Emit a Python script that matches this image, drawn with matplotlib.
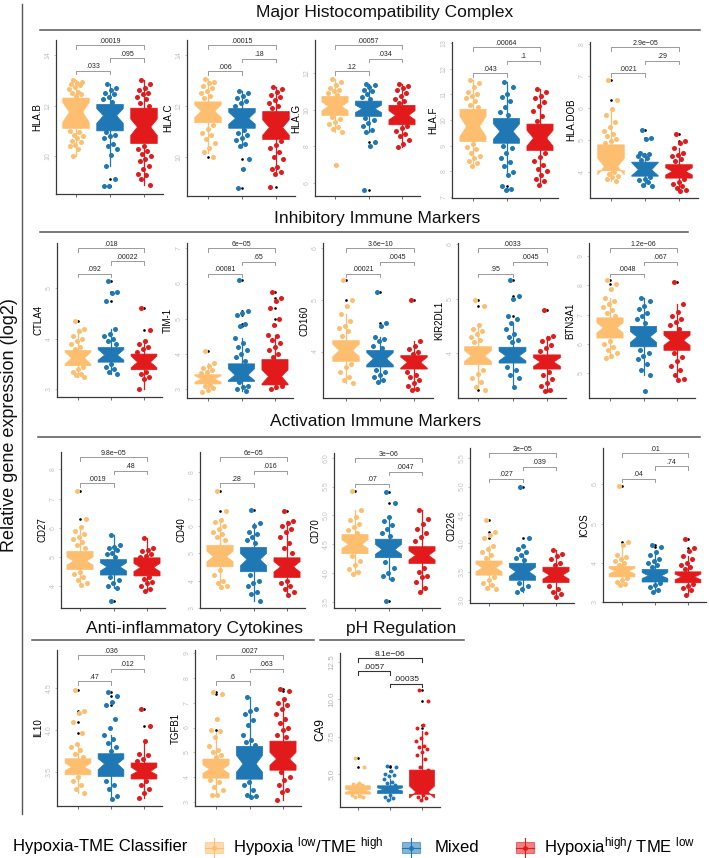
import matplotlib
matplotlib.use('Agg')
import matplotlib.pyplot as plt
from matplotlib.patches import Rectangle
from matplotlib.lines import Line2D

plt.rcParams['font.family'] = ['Liberation Sans', 'DejaVu Sans']
plt.rcParams['mathtext.default'] = 'regular'

W, H = 709, 858
fig = plt.figure(figsize=(W / 100, H / 100), dpi=100)

group_names = ['Hypoxia low/TME high', 'Mixed', 'Hypoxia high/TME low']
colors = ['#FDBF6F', '#1F78B4', '#E31A1C']

# ---------------- data (box stats: whislo, q1, med, q3, whishi) ----------------
HLAB_box = [[10.0, 11.1, 11.74, 12.3, 13.0], [9.6, 11.0, 11.6, 12.05, 12.85], [8.85, 10.5, 11.15, 11.9, 13.0]]
HLAB_notch = [[11.34, 12.13], [11.3, 11.88], [10.82, 11.47]]
HLAB_low = [13.0, 12.95, 12.9, 12.85, 12.8, 12.75, 12.65, 12.55, 12.5, 12.45, 12.4, 11.0, 10.95, 10.85, 10.8, 10.7, 10.6, 10.55, 10.45, 10.4, 10.3, 10.0]
HLAB_mix = [12.85, 12.7, 12.6, 12.5, 12.45, 12.35, 12.25, 12.15, 10.95, 10.85, 10.8, 10.7, 10.5, 10.4, 10.3, 10.05, 9.6, 9.1, 8.8, 8.8]
HLAB_high = [13.0, 12.85, 12.7, 12.6, 12.5, 12.45, 12.35, 12.25, 12.1, 12.0, 10.4, 10.3, 10.2, 10.1, 10.0, 9.9, 9.8, 9.6, 9.5, 9.3, 9.25, 9.1, 8.85]
HLAB_out = [[], [9.1, 8.8, 8.8], []]
HLAB_p = ['.033', '.095', '.00019']

HLAC_box = [[10.15, 11.34, 11.8, 12.16, 13.05], [10.4, 11.12, 11.51, 11.9, 12.6], [9.3, 10.68, 11.15, 11.78, 12.75]]
HLAC_notch = [[11.54, 12.04], [11.28, 11.75], [10.85, 11.45]]
HLAC_low = [13.05, 12.95, 12.9, 12.8, 12.7, 12.6, 12.5, 12.4, 12.3, 11.25, 11.1, 10.95, 10.85, 10.7, 10.55, 10.35, 10.2, 10.0]
HLAC_mix = [12.6, 12.5, 12.4, 12.3, 12.2, 12.1, 12.0, 11.05, 10.95, 10.85, 10.75, 10.65, 10.5, 10.42, 9.9, 9.5, 8.75]
HLAC_high = [12.75, 12.65, 12.55, 12.45, 12.35, 12.25, 12.1, 12.0, 11.9, 10.6, 10.45, 10.35, 10.2, 10.0, 9.9, 9.6, 9.5, 9.4, 9.3, 8.8]
HLAC_out = [[10.0], [9.9, 9.5, 8.75], [8.8]]
HLAC_p = ['.006', '.18', '.00015']

HLAG_box = [[8.8, 9.69, 10.18, 10.73, 11.65], [8.8, 9.64, 10.05, 10.47, 11.4], [7.96, 9.18, 9.69, 10.24, 11.42]]
HLAG_notch = [[9.95, 10.42], [9.85, 10.25], [9.45, 9.95]]
HLAG_low = [11.65, 11.5, 11.35, 11.2, 11.1, 11.0, 10.9, 10.8, 9.6, 9.5, 9.35, 9.2, 9.05, 8.95, 8.8, 7.0]
HLAG_mix = [11.4, 11.35, 11.25, 11.1, 11.0, 10.85, 10.7, 10.6, 9.55, 9.45, 9.3, 9.1, 8.9, 8.8, 8.25, 8.0, 5.65]
HLAG_high = [11.42, 11.3, 11.2, 11.05, 10.9, 10.75, 10.6, 10.45, 10.35, 9.1, 9.0, 8.85, 8.7, 8.55, 8.35, 8.15, 7.96]
HLAG_out = [[7.0], [8.25, 8.0, 5.65], []]
HLAG_p = ['.12', '.034', '.00057']

HLAF_box = [[8.2, 9.16, 9.74, 10.42, 11.56], [7.85, 9.09, 9.55, 10.06, 11.5], [7.45, 8.81, 9.29, 9.84, 11.2]]
HLAF_notch = [[9.35, 10.15], [9.25, 9.85], [8.98, 9.6]]
HLAF_low = [11.56, 11.45, 11.3, 11.1, 11.0, 10.95, 10.85, 10.75, 10.6, 10.5, 9.05, 8.95, 8.85, 8.7, 8.6, 8.5, 8.4, 8.3, 8.2]
HLAF_mix = [11.5, 11.3, 11.0, 10.9, 10.75, 10.5, 10.3, 10.2, 9.0, 8.9, 8.7, 8.5, 8.35, 8.2, 7.95, 7.85, 7.4, 7.32, 7.28]
HLAF_high = [11.2, 11.1, 10.95, 10.85, 10.7, 10.55, 10.35, 10.15, 9.95, 8.7, 8.55, 8.4, 8.25, 8.1, 8.0, 7.85, 7.7, 7.6, 7.45]
HLAF_out = [[], [7.4, 7.32, 7.28], []]
HLAF_p = ['.043', '.1', '.00064']

HLADOB_box = [[3.72, 4.05, 4.18, 4.86, 5.98], [3.56, 3.88, 4.08, 4.32, 4.62], [3.45, 3.82, 4.03, 4.24, 4.76]]
HLADOB_notch = [[3.92, 4.44], [3.9, 4.3], [3.92, 4.14]]
HLADOB_low = [6.88, 6.26, 5.98, 5.8, 5.58, 5.42, 5.3, 5.2, 5.12, 5.05, 4.98, 4.92, 4.0, 3.95, 3.9, 3.85, 3.78, 3.72]
HLADOB_mix = [5.33, 5.07, 5.03, 4.62, 4.58, 4.55, 4.5, 4.45, 4.4, 3.85, 3.8, 3.75, 3.7, 3.62, 3.56]
HLADOB_high = [5.19, 4.98, 4.92, 4.76, 4.62, 4.55, 4.5, 4.42, 4.35, 3.78, 3.7, 3.65, 3.58, 3.5, 3.45, 3.41]
HLADOB_out = [[6.88, 6.26], [5.33, 5.07, 5.03], [5.19, 4.98, 4.92]]
HLADOB_p = ['.0021', '.29', '2.9e\u221205']

CTLA4_box = [[3.25, 3.47, 3.62, 3.77, 4.2], [3.3, 3.54, 3.68, 3.83, 4.2], [3.0, 3.39, 3.54, 3.7, 3.95]]
CTLA4_notch = [[3.5, 3.74], [3.58, 3.79], [3.43, 3.66]]
CTLA4_low = [4.36, 4.2, 4.15, 4.05, 4.0, 3.95, 3.9, 3.85, 3.8, 3.45, 3.4, 3.35, 3.3, 3.28, 3.25]
CTLA4_mix = [5.14, 4.93, 4.9, 4.76, 4.19, 4.1, 4.05, 4.0, 3.95, 3.9, 3.5, 3.45, 3.4, 3.35, 3.3]
CTLA4_high = [4.62, 4.18, 3.95, 3.9, 3.85, 3.8, 3.75, 3.35, 3.3, 3.25, 3.2, 3.0]
CTLA4_out = [[4.36], [5.14, 4.93, 4.9, 4.76], [4.62, 4.18]]
CTLA4_p = ['.092', '.00022', '.018']

TIM1_box = [[2.93, 3.15, 3.29, 3.41, 3.74], [2.95, 3.22, 3.4, 3.72, 4.46], [3.0, 3.12, 3.36, 3.84, 4.55]]
TIM1_notch = [[3.2, 3.38], [3.25, 3.58], [3.15, 3.55]]
TIM1_low = [4.08, 3.74, 3.65, 3.6, 3.55, 3.5, 3.45, 3.12, 3.08, 3.03, 2.98, 2.93]
TIM1_mix = [6.1, 5.22, 5.15, 5.1, 4.84, 4.78, 4.46, 4.3, 4.2, 4.1, 4.0, 3.9, 3.8, 3.2, 3.1, 3.05, 3.0, 2.95]
TIM1_high = [5.77, 5.6, 5.5, 5.3, 4.98, 4.81, 4.55, 4.5, 4.4, 4.3, 4.2, 4.1, 4.0, 3.9, 3.1, 3.05, 3.0]
TIM1_out = [[4.08], [6.1, 5.22, 5.15, 5.1, 4.84, 4.78], [5.77, 5.6, 5.5, 5.3, 4.98, 4.81]]
TIM1_p = ['.00081', '.65', '6e\u221205']

CD160_box = [[3.39, 3.81, 4.02, 4.21, 4.73], [3.41, 3.7, 3.86, 4.02, 4.28], [3.25, 3.66, 3.79, 3.92, 4.21]]
CD160_notch = [[3.9, 4.14], [3.74, 3.98], [3.68, 3.89]]
CD160_low = [5.39, 5.0, 4.88, 4.73, 4.6, 4.5, 4.45, 4.4, 4.3, 3.75, 3.7, 3.6, 3.5, 3.45, 3.39]
CD160_mix = [5.16, 4.55, 4.5, 4.28, 4.25, 4.2, 4.1, 4.06, 3.65, 3.6, 3.55, 3.5, 3.45, 3.41]
CD160_high = [4.99, 4.21, 4.1, 4.05, 4.0, 3.95, 3.6, 3.55, 3.5, 3.45, 3.4, 3.33, 3.28, 3.25]
CD160_out = [[5.39, 5.0, 4.88], [5.16, 4.55, 4.5], [4.99]]
CD160_p = ['.00021', '.0045', '3.6e\u221210']

KIR_box = [[3.35, 3.79, 3.95, 4.12, 4.52], [3.39, 3.82, 3.95, 4.11, 4.55], [3.33, 3.71, 3.84, 3.97, 4.32]]
KIR_notch = [[3.85, 4.05], [3.86, 4.04], [3.76, 3.92]]
KIR_low = [4.98, 4.87, 4.52, 4.45, 4.4, 4.35, 4.3, 4.25, 4.2, 3.7, 3.62, 3.55, 3.48, 3.39, 3.32]
KIR_mix = [5.34, 5.05, 5.0, 4.68, 4.62, 4.55, 4.45, 4.35, 4.3, 4.25, 4.2, 3.75, 3.7, 3.6, 3.54, 3.39]
KIR_high = [4.79, 4.32, 4.28, 4.22, 4.15, 4.1, 4.05, 3.65, 3.6, 3.52, 3.45, 3.4, 3.33, 3.3]
KIR_out = [[4.98, 4.87, 3.32], [5.34, 5.05, 5.0, 4.68], [4.79, 3.3]]
KIR_p = ['.95', '.0045', '.0033']

BTN_box = [[5.52, 6.2, 6.55, 6.89, 7.57], [4.95, 5.9, 6.24, 6.6, 7.57], [4.78, 5.78, 6.12, 6.43, 7.38]]
BTN_notch = [[6.38, 6.72], [6.05, 6.42], [5.95, 6.3]]
BTN_low = [8.19, 8.06, 7.88, 7.57, 7.45, 7.35, 7.25, 7.15, 7.05, 6.95, 6.1, 6.0, 5.9, 5.8, 5.7, 5.6, 5.52]
BTN_mix = [7.57, 7.45, 7.3, 7.2, 7.05, 6.95, 6.85, 6.7, 5.8, 5.7, 5.6, 5.5, 5.3, 5.1, 4.95, 4.39]
BTN_high = [8.1, 7.38, 7.1, 6.95, 6.85, 6.75, 6.65, 6.5, 5.7, 5.55, 5.4, 5.25, 5.1, 4.95, 4.8, 4.78]
BTN_out = [[8.19, 8.06, 7.88], [4.39], [8.1]]
BTN_p = ['.0048', '.067', '1.2e\u221206']

CD27_box = [[4.03, 4.57, 4.86, 5.19, 6.02], [3.95, 4.38, 4.66, 4.91, 5.74], [3.85, 4.35, 4.64, 4.97, 5.66]]
CD27_notch = [[4.72, 5.0], [4.52, 4.8], [4.5, 4.78]]
CD27_low = [7.25, 6.31, 6.02, 5.9, 5.8, 5.7, 5.6, 5.5, 5.4, 5.3, 4.5, 4.4, 4.3, 4.2, 4.1, 4.03]
CD27_mix = [5.74, 5.4, 5.35, 5.3, 5.25, 5.15, 5.1, 5.0, 4.3, 4.2, 4.1, 4.0, 3.95, 3.5]
CD27_high = [5.66, 5.32, 5.25, 5.2, 5.1, 5.05, 5.0, 4.3, 4.25, 4.15, 4.1, 4.0, 3.89, 3.85]
CD27_out = [[7.25, 6.31], [3.5], []]
CD27_p = ['.0019', '.48', '9.8e\u221205']

CD40_box = [[3.76, 4.51, 4.88, 5.3, 6.24], [3.26, 4.33, 4.78, 5.22, 6.1], [3.48, 4.12, 4.51, 4.84, 6.2]]
CD40_notch = [[4.7, 5.08], [4.55, 5.0], [4.32, 4.7]]
CD40_low = [7.28, 6.56, 6.24, 6.15, 6.0, 5.9, 5.8, 5.7, 5.6, 5.5, 4.4, 4.2, 4.0, 3.9, 3.8, 3.76]
CD40_mix = [6.61, 6.1, 6.0, 5.79, 5.7, 5.6, 5.5, 5.4, 4.2, 4.0, 3.9, 3.8, 3.6, 3.5, 3.26]
CD40_high = [6.54, 6.2, 6.1, 6.0, 5.9, 5.8, 5.6, 5.4, 5.2, 5.0, 4.0, 3.9, 3.8, 3.7, 3.6, 3.48]
CD40_out = [[7.28, 6.56], [6.61], [6.54]]
CD40_p = ['.28', '.016', '6e\u221205']

CD70_box = [[3.99, 4.34, 4.5, 4.67, 5.1], [3.9, 4.27, 4.41, 4.59, 4.98], [3.68, 4.17, 4.31, 4.46, 5.1]]
CD70_notch = [[4.43, 4.58], [4.33, 4.5], [4.23, 4.39]]
CD70_low = [5.43, 5.1, 4.98, 4.92, 4.86, 4.8, 4.75, 4.7, 4.3, 4.22, 4.15, 4.08, 4.03, 3.99]
CD70_mix = [5.4, 5.21, 4.98, 4.9, 4.83, 4.77, 4.7, 4.64, 4.2, 4.1, 4.0, 3.95, 3.9, 3.52]
CD70_high = [5.1, 4.94, 4.85, 4.77, 4.7, 4.62, 4.55, 4.1, 4.02, 3.96, 3.93, 3.85, 3.75, 3.68]
CD70_out = [[5.43], [5.4, 5.21, 3.52], []]
CD70_p = ['.07', '.0047', '3e\u221206']

CD226_box = [[3.2, 3.44, 3.57, 3.69, 3.95], [3.15, 3.35, 3.5, 3.65, 3.82], [3.06, 3.31, 3.44, 3.58, 3.88]]
CD226_notch = [[3.5, 3.64], [3.42, 3.58], [3.37, 3.51]]
CD226_low = [4.41, 4.2, 4.15, 4.09, 3.95, 3.9, 3.85, 3.8, 3.75, 3.4, 3.35, 3.3, 3.26, 3.22, 3.2]
CD226_mix = [5.0, 4.09, 3.95, 3.9, 3.85, 3.8, 3.75, 3.7, 3.3, 3.25, 3.2, 3.15]
CD226_high = [3.88, 3.82, 3.78, 3.72, 3.66, 3.62, 3.25, 3.2, 3.15, 3.1, 3.06]
CD226_out = [[4.41, 4.2, 4.09], [5.0, 4.09, 3.95], []]
CD226_p = ['.027', '.039', '2e\u221205']

ICOS_box = [[3.43, 3.64, 3.79, 3.91, 4.45], [3.26, 3.51, 3.67, 3.83, 4.28], [3.19, 3.49, 3.64, 3.77, 4.17]]
ICOS_notch = [[3.72, 3.86], [3.6, 3.75], [3.57, 3.71]]
ICOS_low = [5.95, 4.54, 4.45, 4.2, 4.15, 4.1, 4.05, 4.0, 3.95, 3.6, 3.55, 3.5, 3.45, 3.43]
ICOS_mix = [4.45, 4.4, 4.28, 4.2, 4.1, 4.05, 4.0, 3.95, 3.9, 3.48, 3.43, 3.38, 3.3, 3.26]
ICOS_high = [4.6, 4.37, 4.3, 4.17, 4.1, 4.0, 3.95, 3.9, 3.85, 3.45, 3.4, 3.35, 3.3, 3.19]
ICOS_out = [[5.95, 4.54], [4.45, 4.4], [4.6, 4.37, 4.3]]
ICOS_p = ['.04', '.74', '.01']

IL10_box = [[3.25, 3.47, 3.56, 3.66, 3.84], [3.18, 3.45, 3.6, 3.72, 3.94], [3.2, 3.42, 3.51, 3.61, 3.87]]
IL10_notch = [[3.52, 3.61], [3.53, 3.66], [3.47, 3.56]]
IL10_low = [4.48, 4.23, 4.2, 4.1, 3.96, 3.84, 3.8, 3.76, 3.72, 3.68, 3.44, 3.4, 3.35, 3.3, 3.25]
IL10_mix = [4.45, 4.41, 4.33, 4.3, 4.13, 4.03, 3.94, 3.9, 3.85, 3.8, 3.75, 3.4, 3.35, 3.3, 3.22, 3.18]
IL10_high = [4.25, 4.05, 3.87, 3.72, 3.7, 3.66, 3.63, 3.4, 3.35, 3.3, 3.25, 3.2]
IL10_out = [[4.48, 4.23, 4.2, 4.1, 3.96], [4.45, 4.41, 4.33, 4.3], [4.25, 4.05]]
IL10_p = ['.47', '.012', '.036']

TGFB1_box = [[3.28, 3.96, 4.32, 4.73, 5.85], [3.2, 3.92, 4.53, 5.24, 7.23], [3.07, 4.28, 4.73, 5.45, 7.16]]
TGFB1_notch = [[4.15, 4.5], [4.2, 4.88], [4.48, 5.0]]
TGFB1_low = [7.43, 7.35, 6.35, 5.9, 5.85, 5.6, 5.27, 5.1, 5.0, 4.9, 4.8, 3.9, 3.8, 3.6, 3.5, 3.3, 3.28]
TGFB1_mix = [7.23, 6.76, 6.65, 6.53, 6.3, 6.1, 5.68, 5.5, 5.4, 5.3, 3.8, 3.7, 3.5, 3.3, 3.25, 3.2]
TGFB1_high = [7.57, 7.45, 7.16, 7.0, 6.9, 6.76, 6.55, 6.35, 6.2, 6.0, 5.9, 5.7, 5.6, 4.2, 4.0, 3.9, 3.7, 3.5, 3.4, 3.07]
TGFB1_out = [[7.43, 7.35, 6.35, 5.9], [], [7.57, 7.45]]
TGFB1_p = ['.6', '.063', '.0027']

CA9_box = [[3.48, 3.66, 3.88, 4.22, 4.4], [3.3, 3.7, 3.97, 4.22, 4.7], [3.3, 3.65, 3.8, 5.27, 7.9]]
CA9_notch = [[3.8, 3.98], [3.88, 4.08], [3.4, 4.2]]
CA9_low = [6.05, 5.49, 4.4, 4.35, 4.3, 4.25, 3.6, 3.55, 3.5, 3.48]
CA9_mix = [5.54, 5.45, 5.22, 5.0, 4.95, 4.85, 4.7, 4.5, 4.4, 4.3, 3.6, 3.5, 3.4, 3.3]
CA9_high = [10.62, 9.91, 8.28, 8.06, 7.75, 7.39, 7.2, 6.9, 6.83, 6.7, 6.5, 6.3, 6.0, 5.5, 5.3, 3.6, 3.5, 3.4, 3.3]
CA9_out = [[6.05, 5.49], [5.54, 5.45, 5.22], [10.62, 9.91, 8.28, 8.06]]
CA9_p = ['.0057', '.00035', '8.1e\u221206']

# ---------------- layout (pixel positions: left spine, group1 x, group3 x, top, bottom) ----------------
PANELS = [
    ('HLA.B', HLAB_box, HLAB_notch, [HLAB_low, HLAB_mix, HLAB_high], HLAB_out, HLAB_p, [10, 12, 14], (8.5, 14.6), (56, 76, 144, 40, 194)),
    ('HLA.C', HLAC_box, HLAC_notch, [HLAC_low, HLAC_mix, HLAC_high], HLAC_out, HLAC_p, [10, 12, 14], (8.45, 14.6), (187, 208, 276, 40, 196)),
    ('HLA.G', HLAG_box, HLAG_notch, [HLAG_low, HLAG_mix, HLAG_high], HLAG_out, HLAG_p, [6, 8, 10, 12], (5.3, 13.8), (315, 335, 402, 40, 196)),
    ('HLA.F', HLAF_box, HLAF_notch, [HLAF_low, HLAF_mix, HLAF_high], HLAF_out, HLAF_p, [7, 8, 9, 10, 11, 12, 13], (6.95, 13.05), (452, 473, 540, 42, 198)),
    ('HLA.DOB', HLADOB_box, HLADOB_notch, [HLADOB_low, HLADOB_mix, HLADOB_high], HLADOB_out, HLADOB_p, [4, 5, 6, 7, 8], (3.2, 8.07), (590, 611, 679, 42, 198)),
    ('CTLA4', CTLA4_box, CTLA4_notch, [CTLA4_low, CTLA4_mix, CTLA4_high], CTLA4_out, CTLA4_p, [3, 4, 5], (2.85, 5.9), (57, 78, 144, 243, 397)),
    ('TIM-1', TIM1_box, TIM1_notch, [TIM1_low, TIM1_mix, TIM1_high], TIM1_out, TIM1_p, [3, 4, 5, 6, 7], (2.75, 7.15), (187, 208, 275, 243, 398)),
    ('CD160', CD160_box, CD160_notch, [CD160_low, CD160_mix, CD160_high], CD160_out, CD160_p, [4, 5, 6], (3.1, 6.1), (323, 346, 414, 243, 398)),
    ('KIR2DL1', KIR_box, KIR_notch, [KIR_low, KIR_mix, KIR_high], KIR_out, KIR_p, [4, 5, 6], (3.18, 6.02), (458, 478, 547, 243, 398)),
    ('BTN3A1', BTN_box, BTN_notch, [BTN_low, BTN_mix, BTN_high], BTN_out, BTN_p, [5, 6, 7, 8, 9], (4.15, 9.45), (589, 610, 677, 243, 398)),
    ('CD27', CD27_box, CD27_notch, [CD27_low, CD27_mix, CD27_high], CD27_out, CD27_p, [4, 5, 6, 7, 8], (3.25, 8.6), (61, 80, 147, 452, 608)),
    ('CD40', CD40_box, CD40_notch, [CD40_low, CD40_mix, CD40_high], CD40_out, CD40_p, [3, 4, 5, 6, 7, 8], (3.0, 8.72), (200, 220, 287, 452, 608)),
    ('CD70', CD70_box, CD70_notch, [CD70_low, CD70_mix, CD70_high], CD70_out, CD70_p, [3.5, 4.0, 4.5, 5.0, 5.5, 6.0], (3.4, 6.08), (334, 355, 422, 453, 608)),
    ('CD226', CD226_box, CD226_notch, [CD226_low, CD226_mix, CD226_high], CD226_out, CD226_p, [3.0, 3.5, 4.0, 4.5, 5.0, 5.5], (2.95, 5.68), (470, 489, 556, 448, 603)),
    ('ICOS', ICOS_box, ICOS_notch, [ICOS_low, ICOS_mix, ICOS_high], ICOS_out, ICOS_p, [3, 4, 5, 6], (3.0, 6.93), (603, 622, 688, 448, 602)),
    ('IL10', IL10_box, IL10_notch, [IL10_low, IL10_mix, IL10_high], IL10_out, IL10_p, [3.5, 4.0, 4.5], (3.1, 4.95), (57, 78, 144, 650, 806)),
    ('TGFB1', TGFB1_box, TGFB1_notch, [TGFB1_low, TGFB1_mix, TGFB1_high], TGFB1_out, TGFB1_p, [3, 4, 5, 6, 7, 8, 9], (2.84, 9.12), (195, 216, 283, 650, 806)),
    ('CA9', CA9_box, CA9_notch, [CA9_low, CA9_mix, CA9_high], CA9_out, CA9_p, [5.0, 7.5, 10.0, 12.5], (2.8, 13.1), (340, 358, 422, 653, 807)),
]


def jitter(i):
    return ((i * 0.618034 + 0.31) % 1.0 - 0.5) * 0.42


def draw_panel(name, box, notch, pts, out, pvals, ticks, ylim, pos):
    L, G1, G3, T, B = pos
    big = (name == 'CA9')
    s = (G3 - G1) / 2.0
    x0 = 1 - (G1 - L) / s
    x1 = 3.55
    wpx = (x1 - x0) * s
    ax = fig.add_axes([L / W, 1 - B / H, wpx / W, (B - T) / H])
    stats = []
    for i in range(3):
        wl, q1, med, q3, wh = box[i]
        stats.append(dict(whislo=wl, q1=q1, med=med, q3=q3, whishi=wh,
                          cilo=notch[i][0], cihi=notch[i][1], fliers=out[i]))
    bp = ax.bxp(stats, positions=[1, 2, 3], widths=0.78, shownotches=True,
                patch_artist=True, showcaps=False, showfliers=True,
                flierprops=dict(marker='o', markersize=0.9, markerfacecolor='black',
                                markeredgecolor='black', linestyle='none'))
    for i in range(3):
        c = colors[i]
        bp['boxes'][i].set_facecolor(c)
        bp['boxes'][i].set_edgecolor(c)
        bp['boxes'][i].set_linewidth(0.5)
        bp['boxes'][i].set_zorder(2)
        bp['medians'][i].set_color(c)
        for w in bp['whiskers'][2 * i:2 * i + 2]:
            w.set_color(c)
            w.set_linewidth(0.9)
            w.set_zorder(1.5)
        bp['fliers'][i].set_zorder(2.4)
        ys = pts[i]
        xs = [i + 1 + jitter(k) for k in range(len(ys))]
        ax.scatter(xs, ys, s=8 if big else 13, color=c, linewidths=0, zorder=3)
    ax.set_xlim(x0, x1)
    ax.set_ylim(*ylim)
    for sp in ['top', 'right']:
        ax.spines[sp].set_visible(False)
    for sp in ['left', 'bottom']:
        ax.spines[sp].set_color('#3a3a3a')
        ax.spines[sp].set_linewidth(0.9)
    ax.set_xticks([1, 2, 3])
    ax.set_xticklabels(['', '', ''])
    ax.set_yticks(ticks)
    if any(isinstance(t, float) for t in ticks):
        ax.set_yticklabels(['%.1f' % t for t in ticks])
    else:
        ax.set_yticklabels([str(t) for t in ticks])
    ax.tick_params(axis='x', length=2.5, width=0.6, color='#555555')
    ax.tick_params(axis='y', length=1.5, width=0.5, color='#aaaaaa', pad=1.5,
                   labelsize=5.8 if big else 5.0, labelcolor='#b5b5b5' if big else '#c2c2c2',
                   labelrotation=90)
    for lab in ax.get_yticklabels():
        lab.set_va('center')
    ax.set_ylabel(name, fontsize=8.5 if big else 7, labelpad=2)
    # significance brackets
    tr = ax.get_xaxis_transform()
    if big:
        pairs = [(1, 2, 0.88), (2, 3, 0.80), (1, 3, 0.965)]
        bc, blw, fs = '#333333', 0.8, 6.0
    else:
        pairs = [(1, 2, 0.80), (2, 3, 0.88), (1, 3, 0.965)]
        bc, blw, fs = '#8a8a8a', 0.6, 5.0
    for (a, b, yf), lab in zip(pairs, pvals):
        ax.plot([a, a, b, b], [yf - 0.022, yf, yf, yf - 0.022], transform=tr,
                color=bc, lw=blw, clip_on=False, zorder=4)
        ax.text((a + b) / 2, yf + 0.004, lab, transform=tr, ha='center', va='bottom',
                fontsize=fs, color='#222222')
    return ax


for p in PANELS:
    draw_panel(*p)

# ---------------- section titles and frames ----------------
def fline(x0, x1, y0, y1, lw=1.1, color='#555555'):
    fig.add_artist(Line2D([x0 / W, x1 / W], [1 - y0 / H, 1 - y1 / H], color=color, lw=lw))

titles = [('Major Histocompatibility Complex', 385, 13, 40, 700, 30),
          ('Inhibitory Immune Markers', 377, 218, 40, 688, 232),
          ('Activation Immune Markers', 376, 422, 38, 700, 437),
          ('Anti-inflammatory Cytokines', 194, 628, 32, 314, 640),
          ('pH Regulation', 401, 628, 320, 464, 640)]
for txt, cx, cy, lx0, lx1, ly in titles:
    fig.text(cx / W, 1 - cy / H, txt, ha='center', va='center', fontsize=12.5, color='#111111')
    fline(lx0, lx1, ly, ly)

fline(22, 22, 4, 814, lw=1.0)
fig.text(10 / W, 1 - 425 / H, 'Relative gene expression (log2)', rotation=90,
         ha='center', va='center', fontsize=13, color='#111111')

# ---------------- legend ----------------
ly = 847
fig.text(13 / W, 1 - ly / H, 'Hypoxia-TME Classifier', ha='left', va='center', fontsize=12)
leg_items = [(205, 233, r'Hypoxia $^{low}$/TME $^{high}$'),
             (402, 435, 'Mixed'),
             (516, 544, r'Hypoxia$^{high}$/ TME $^{low}$')]
for (px, tx, lab), c in zip(leg_items, colors):
    fig.add_artist(Rectangle((px / W, 1 - 853 / H), 18 / W, 11 / H, facecolor=c, alpha=0.55,
                             edgecolor=c, lw=0.8, transform=fig.transFigure))
    fline(px + 9, px + 9, 838, 857, lw=0.8, color=c)
    fline(px, px + 18, 847.5, 847.5, lw=0.8, color=c)
    fig.add_artist(Line2D([(px + 9) / W], [1 - 847.5 / H], marker='o', markersize=2.5,
                          color=c, transform=fig.transFigure))
    fig.text(tx / W, 1 - ly / H, lab, ha='left', va='center', fontsize=12)

fig.savefig('out.png', dpi=100, facecolor='white')
